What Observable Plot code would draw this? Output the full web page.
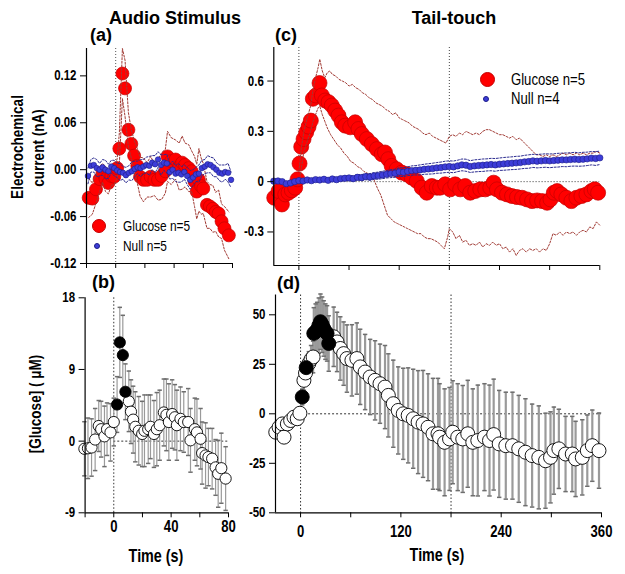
<!DOCTYPE html>
<html><head><meta charset="utf-8">
<script src="https://cdn.jsdelivr.net/npm/d3@7"></script>
<script src="https://cdn.jsdelivr.net/npm/@observablehq/plot@0.6"></script>
<style>
html,body{margin:0;padding:0;background:#fff;}
#wrap{position:relative;width:625px;height:574px;overflow:hidden;background:#fff;}
.lbl{position:absolute;white-space:nowrap;color:#000;}
.sw{position:absolute;border-radius:50%;box-sizing:border-box;}
</style></head>
<body><div id="wrap"></div>
<script>
// ---------------- DATA ----------------
// Panel (a): Audio stimulus, electrochemical current (nA)
const audioGluT  = [-18.5,-16,-13.5,-11,-9,-7,-5,-3,-1,1,2.5,4.6,6.4,8.7,10.7,12.6,14.8,16.7,19,21.5,24,26.5,29,31.5,34,35.5,38,41,43.5,45.5,47.5,50,52,54,55.5,57,58.5,60,62.5,64.5,66.5,68.5,70.5,72.5,74.5,77.5];
const audioGluNA = [-0.036,-0.037,-0.025,-0.012,-0.004,-0.012,-0.017,-0.008,-0.009,0.002,0.027,0.123,0.104,0.051,0.033,0.018,0.005,-0.009,-0.013,-0.013,-0.009,-0.013,-0.013,-0.008,-0.002,0.017,0.011,0.013,0.004,0.009,0.006,0.002,-0.002,-0.015,-0.028,-0.013,-0.021,-0.024,-0.045,-0.047,-0.050,-0.054,-0.056,-0.066,-0.075,-0.084];
const audioGluSEM = [0.025,0.02,0.018,0.016,0.012,0.016,0.014,0.012,0.01,0.012,0.02,0.032,0.036,0.022,0.018,0.02,0.022,0.025,0.028,0.022,0.026,0.02,0.026,0.03,0.028,0.032,0.03,0.025,0.03,0.034,0.028,0.03,0.026,0.032,0.035,0.04,0.036,0.032,0.03,0.028,0.03,0.025,0.03,0.022,0.028,0.03];
const audioNullT  = [-19,-17,-15,-13,-11,-9,-7,-5,-3,-1,1,3,5,7,9,11,13,15,17,19,21,23,25,27,29,31,33,35,37,39,41,43,45,47,49,51,53,55,57,59,61,63,65,67,69,71,73,75,77,79];
const audioNullNA = [-0.008,0.005,0.006,0.002,0.0,0.003,0.0,-0.002,0.004,0.002,-0.001,-0.003,-0.004,-0.007,-0.004,-0.002,0.001,0.003,0.002,0.004,0.006,0.005,0.009,0.007,0.013,0.006,0.009,0.008,-0.003,0.0,-0.005,-0.004,-0.006,-0.003,-0.008,-0.013,-0.010,-0.006,-0.005,0.002,0.004,0.007,0.006,0.003,0.0,-0.004,-0.005,-0.003,-0.004,-0.013];
const audioNullSEM = [0.01,0.008,0.009,0.011,0.008,0.01,0.012,0.009,0.008,0.01,0.009,0.011,0.008,0.01,0.009,0.012,0.01,0.008,0.011,0.009,0.01,0.012,0.009,0.011,0.01,0.013,0.01,0.012,0.009,0.011,0.01,0.012,0.01,0.009,0.011,0.012,0.01,0.009,0.011,0.01,0.009,0.011,0.01,0.012,0.009,0.01,0.011,0.009,0.012,0.01];

// Panel (b): Audio stimulus, [Glucose] (uM); sig = filled black point
const audioUMT   = [-20.5,-18,-15.5,-13,-10.5,-8.8,-6.5,-4.7,-2.3,0,2.3,4.2,6.3,8.1,10.5,12,13.5,15,17.4,19.8,21.4,24,25.6,28,30,32,34.9,36.7,38.4,40.7,42.6,44,46.5,48.8,51.9,53.5,56.5,58,60.5,61.6,64,66,68.6,71,72.8,75,78];
const audioUM    = [-0.96,-0.9,-0.8,0.2,1.9,1.5,0.6,1.5,1.1,2.4,4.6,12.4,10.8,6.2,5.0,3.7,2.7,1.8,1.3,0.9,1.3,1.5,1.8,0.9,1.5,2.0,3.6,3.3,2.4,3.4,3.0,2.0,2.8,2.4,2.4,0.1,1.5,1.1,0.3,-1.5,-1.8,-2.0,-2.2,-3.3,-4.1,-3.4,-4.7];
const audioUMSEM = [3.4,3.8,3.6,3.9,3.2,3.5,3.8,3.3,3.6,3.0,3.5,4.4,5.0,3.5,3.8,4.0,4.2,4.4,4.3,4.1,4.5,4.3,4.0,4.2,4.6,4.4,4.2,4.5,4.8,4.3,4.1,4.4,4.0,3.8,4.2,4.0,3.9,4.2,3.8,3.9,4.1,3.6,3.8,3.5,4.2,4.4,4.0];
const audioUMSig = [0,0,0,0,0,0,0,0,0,0,1,1,1,1,0,0,0,0,0,0,0,0,0,0,0,0,0,0,0,0,0,0,0,0,0,0,0,0,0,0,0,0,0,0,0,0,0];

// Panel (c): Tail-touch, electrochemical current (nA)
const tailGluT  = [-29.5,-24.3,-20.3,-16.3,-12.4,-8.4,-4.4,-1.6,0.8,2.8,5.6,8.8,11.6,14.3,16.7,20.3,24.7,27.5,31.5,35.5,39.4,43.4,47.4,51.4,55.4,61.4,67.3,71.3,75.3,81.3,87.3,93.3,99.2,103,107,111,117,123,129,135,141,147,153,159,165,169,175,181,187,193,199,205,211,217,223,229,233,237,243,249,255,261,267,273,279,285,291,297,301,305,309,314,320,326,332,338,344,350,354,358];
const tailGluNA = [-0.096,-0.056,-0.136,-0.076,-0.066,-0.052,-0.036,0.014,0.108,0.208,0.254,0.294,0.328,0.364,0.494,0.514,0.588,0.514,0.484,0.474,0.454,0.424,0.394,0.354,0.334,0.324,0.354,0.314,0.284,0.254,0.224,0.194,0.164,0.174,0.134,0.094,0.074,0.054,0.044,0.024,0.004,-0.036,-0.066,-0.026,-0.036,-0.036,-0.016,-0.046,-0.016,-0.046,-0.026,-0.066,-0.056,-0.046,-0.046,-0.036,-0.006,-0.046,-0.066,-0.076,-0.086,-0.092,-0.096,-0.106,-0.116,-0.112,-0.116,-0.126,-0.106,-0.066,-0.056,-0.076,-0.096,-0.116,-0.096,-0.086,-0.076,-0.056,-0.046,-0.066];
const tailGluUpper = [[0,0.06],[3,0.2],[6,0.3],[10,0.38],[14,0.45],[17,0.55],[20,0.62],[23,0.68],[25,0.73],[28,0.66],[31,0.62],[34,0.65],[37,0.66],[40,0.64],[44,0.63],[48,0.61],[52,0.6],[56,0.59],[60,0.57],[64,0.58],[68,0.56],[72,0.55],[76,0.53],[80,0.52],[84,0.5],[88,0.49],[92,0.47],[96,0.46],[100,0.45],[104,0.43],[108,0.42],[112,0.4],[116,0.41],[120,0.38],[124,0.37],[128,0.36],[132,0.35],[136,0.33],[140,0.32],[144,0.31],[148,0.29],[152,0.28],[156,0.29],[160,0.27],[164,0.26],[168,0.25],[172,0.24],[176,0.23],[180,0.27],[184,0.28],[188,0.27],[192,0.29],[196,0.28],[200,0.3],[204,0.29],[208,0.28],[212,0.29],[216,0.28],[220,0.3],[224,0.31],[228,0.31],[232,0.3],[236,0.29],[240,0.28],[244,0.28],[248,0.27],[252,0.26],[256,0.27],[260,0.25],[264,0.26],[268,0.24],[272,0.22],[276,0.2],[280,0.18],[284,0.16],[288,0.16],[292,0.15],[296,0.16],[300,0.15],[304,0.16],[308,0.15],[312,0.16],[316,0.17],[320,0.16],[324,0.17],[328,0.16],[332,0.17],[336,0.16],[340,0.17],[344,0.16],[348,0.17],[352,0.17],[356,0.18],[360,0.17]];
const tailGluLower = [[0,-0.02],[3,0.08],[6,0.18],[10,0.24],[14,0.3],[17,0.36],[20,0.4],[23,0.44],[25,0.45],[28,0.4],[31,0.36],[34,0.32],[38,0.28],[42,0.25],[46,0.22],[50,0.2],[54,0.17],[58,0.15],[62,0.12],[66,0.11],[70,0.09],[74,0.08],[78,0.06],[82,0.05],[86,0.04],[90,0.01],[94,-0.04],[98,-0.08],[102,-0.14],[106,-0.2],[110,-0.22],[114,-0.24],[118,-0.25],[122,-0.26],[126,-0.27],[130,-0.28],[134,-0.29],[138,-0.3],[142,-0.31],[146,-0.31],[150,-0.33],[154,-0.34],[158,-0.34],[162,-0.35],[166,-0.36],[170,-0.38],[174,-0.4],[178,-0.33],[180,-0.28],[184,-0.3],[188,-0.34],[192,-0.32],[196,-0.36],[200,-0.35],[204,-0.38],[208,-0.37],[212,-0.38],[216,-0.36],[220,-0.39],[224,-0.37],[228,-0.38],[232,-0.36],[236,-0.38],[240,-0.37],[244,-0.4],[248,-0.39],[252,-0.42],[256,-0.4],[260,-0.44],[264,-0.41],[268,-0.4],[272,-0.42],[276,-0.4],[280,-0.41],[284,-0.4],[288,-0.42],[292,-0.4],[296,-0.41],[300,-0.37],[304,-0.31],[308,-0.32],[312,-0.3],[316,-0.32],[320,-0.3],[324,-0.31],[328,-0.3],[332,-0.32],[336,-0.3],[340,-0.29],[344,-0.3],[348,-0.27],[352,-0.28],[356,-0.24],[360,-0.26]];
// [t, mean, SEM]
const tailNull = [[-30,0.003,0.008],[-25,0.004,0.008],[-20,0.0,0.009],[-15,-0.012,0.01],[-10,-0.008,0.009],[-5,0.0,0.008],[0,0.006,0.008],[5,0.004,0.009],[10,0.01,0.01],[15,0.006,0.01],[20,0.012,0.011],[25,0.01,0.01],[30,0.014,0.012],[35,0.008,0.011],[40,0.016,0.012],[45,0.012,0.013],[50,0.018,0.012],[55,0.02,0.014],[60,0.022,0.015],[65,0.018,0.016],[70,0.026,0.016],[75,0.024,0.018],[80,0.03,0.018],[85,0.028,0.02],[90,0.034,0.02],[95,0.036,0.021],[100,0.04,0.022],[105,0.044,0.022],[110,0.048,0.024],[115,0.05,0.024],[120,0.058,0.025],[125,0.056,0.026],[130,0.062,0.026],[135,0.066,0.028],[140,0.068,0.028],[145,0.07,0.03],[150,0.074,0.03],[155,0.076,0.031],[160,0.078,0.032],[165,0.082,0.032],[170,0.084,0.033],[175,0.088,0.034],[180,0.09,0.034],[185,0.088,0.035],[190,0.094,0.034],[195,0.1,0.035],[200,0.098,0.036],[205,0.09,0.035],[210,0.094,0.036],[215,0.096,0.036],[220,0.098,0.037],[225,0.1,0.036],[230,0.102,0.037],[235,0.1,0.038],[240,0.104,0.037],[245,0.106,0.038],[250,0.108,0.038],[255,0.11,0.038],[260,0.112,0.039],[265,0.114,0.038],[270,0.118,0.039],[275,0.12,0.04],[280,0.124,0.039],[285,0.122,0.04],[290,0.124,0.04],[295,0.126,0.04],[300,0.124,0.041],[305,0.126,0.04],[310,0.128,0.041],[315,0.13,0.04],[320,0.13,0.041],[325,0.132,0.04],[330,0.134,0.041],[335,0.132,0.04],[340,0.134,0.041],[345,0.136,0.04],[350,0.14,0.04],[355,0.138,0.041],[360,0.142,0.04]];

// Panel (d): Tail-touch, [Glucose] (uM): [t, mean, SEM, sig]
const tailUM = [[-29.7,-9.3,3,0],[-25.7,-6.8,3,0],[-21.8,-5.1,3,0],[-19.8,-11.8,3,0],[-15.8,-5.1,3,0],[-11.9,-3.4,3,0],[-7.9,-1.7,3,0],[-4,-2.5,3,0],[-0.8,0.3,3,0],[2,8.5,4,1],[4,16.9,5,0],[5.9,20.6,5,0],[6.7,23.3,5,1],[9.9,25.4,6,0],[12.5,27.5,7,0],[15,28.7,8,0],[15.8,40.6,13,1],[18,41.5,14,1],[19.8,42.3,14,1],[21.8,44.5,14,1],[23.8,46.5,14,1],[25.8,45,14,1],[27.7,43.1,14,1],[29.7,41.5,14,1],[31.7,40.6,14,1],[33.7,35.5,14,1],[39.6,38.9,15,0],[43.6,36.3,15,0],[47.5,33,16,0],[51.5,30.4,16,0],[55.4,27.9,17,0],[61.4,27,18,0],[67.3,27.9,18,0],[71.3,23.7,19,0],[77.2,21.1,19,0],[83.2,18.6,19,0],[89.1,16.9,20,0],[95,15.2,20,0],[101,13.5,21,0],[105,9.3,21,0],[110.9,5.1,22,0],[116.8,1.7,22,0],[122.8,0,23,0],[128.7,-0.8,24,0],[134.7,-2.5,25,0],[140.6,-4.2,26,0],[146.5,-5.1,27,0],[152.5,-6.8,27,0],[158.4,-10.1,28,0],[164.4,-10.1,28,0],[166.3,-11.8,27,0],[172.3,-14.4,27,0],[178.2,-12.7,26,0],[182,-9.3,26,0],[188,-11.8,27,0],[194,-12.7,27,0],[200,-10.1,27,0],[206,-14.4,27,0],[212,-13.5,28,0],[220,-11.8,27,0],[226,-13.5,28,0],[231,-10.5,28,0],[237.6,-15.2,27,0],[245.5,-16.1,27,0],[253.5,-16.1,27,0],[261,-17.7,27,0],[269,-19.4,27,0],[277,-21.1,26,0],[285,-22,26,0],[293,-23.7,24,0],[299,-22,23,0],[303,-18.6,22,0],[309,-17.7,20,0],[317,-20.3,19,0],[325,-20.3,19,0],[329,-22.8,19,0],[337,-22,19,0],[343,-18.6,18,0],[349,-16.1,18,0],[357,-18.6,19,0]];

// Axes / reference values
const audioXDomain = [-20, 80];
const audioXTicks = [-20, 0, 20, 40, 60, 80];
const audioXLabels = [0, 40, 80];
const audioNAYDomain = [-0.12, 0.155];
const audioNAYTicks = [-0.12, -0.06, 0, 0.06, 0.12];
const audioUMYDomain = [-9, 18];
const audioUMYTicks = [-9, 0, 9, 18];
const tailXDomain = [-30, 360];
const tailXTicks = [0, 60, 120, 180, 240, 300, 360];
const tailXLabels = [0, 120, 240, 360];
const tailNAYDomain = [-0.5, 0.8];
const tailNAYTicks = [-0.3, 0, 0.3, 0.6];
const tailUMYDomain = [-50, 60];
const tailUMYTicks = [-50, -25, 0, 25, 50];
const audioVLines = [0];
const tailVLines = [0, 180];
const audioZeroSpan = [0, 80];
const tailZeroSpan = [0, 360];

// ---------------- DRAW ----------------
const W = 625, H = 574;
const SANS = "'Liberation Sans',Arial,sans-serif";
const NARROW_SCALE = 0.82;
const wrap = document.getElementById("wrap");

const RED = "#ff0000", RED_EDGE = "#c40000", RED_DASH = "#a13a34";
const BLUE = "#3d3dd8", BLUE_EDGE = "#1c1c88", BLUE_DASH = "#2b2b8f";
const GREY = "#9a9a9a", CAP = "#6e6e6e";
const capSymbol = {draw(ctx) { ctx.moveTo(-2.2, 0); ctx.lineTo(2.2, 0); }};

function panel({frame: [l, r, t, b], xDomain, yDomain, xTicks, xLabels, yTicks, yFormat, xPad = 4, marks}) {
  const svg = Plot.plot({
    width: W, height: H,
    marginLeft: l, marginRight: W - r, marginTop: t, marginBottom: H - b,
    x: {domain: xDomain},
    y: {domain: yDomain},
    style: {position: "absolute", left: "0px", top: "0px", background: "transparent", overflow: "visible",
            fontFamily: SANS, fontSize: "14px", fontWeight: "bold", color: "#000", maxWidth: "none"},
    marks: [
      ...marks,
      Plot.ruleX([xDomain[0]], {stroke: "#000", strokeWidth: 1.2}),
      Plot.ruleY([yDomain[0]], {stroke: "#000", strokeWidth: 1.2}),
      Plot.axisX({ticks: xTicks, tickSize: 5, tickPadding: xPad, label: null,
                  tickFormat: d => xLabels.includes(d) ? String(d) : "", fontSize: 16}),
      Plot.axisY({ticks: yTicks, tickSize: 6, tickPadding: 4, label: null, tickFormat: yFormat})
    ]
  });
  // narrow (condensed) look for the tick labels
  svg.querySelectorAll("text").forEach(el => {
    const tr = el.getAttribute("transform") || "";
    el.setAttribute("transform", tr + ` scale(${NARROW_SCALE},1)`);
  });
  wrap.appendChild(svg);
}

const audioGlu = audioGluT.map((t, i) => ({t, v: audioGluNA[i], e: audioGluSEM[i]}));
const audioNull = audioNullT.map((t, i) => ({t, v: audioNullNA[i], e: audioNullSEM[i]}));
const audioGluUM = audioUMT.map((t, i) => ({t, v: audioUM[i], e: audioUMSEM[i], s: audioUMSig[i]}));
const tailGlu = tailGluT.map((t, i) => ({t, v: tailGluNA[i]}));
const tailNullD = tailNull.map(([t, v, e]) => ({t, v, e}));
const tailGluUMD = tailUM.map(([t, v, e, s]) => ({t, v, e, s}));
const dash = (stroke) => ({stroke, strokeWidth: 1, strokeDasharray: "2,1.6"});

// (a)
panel({
  frame: [86, 232, 48, 263], xDomain: audioXDomain, yDomain: audioNAYDomain,
  xTicks: audioXTicks, xLabels: [], yTicks: audioNAYTicks, yFormat: d => d.toFixed(2),
  marks: [
    Plot.ruleX(audioVLines, {stroke: "#555", strokeDasharray: "1,2"}),
    Plot.dot(audioGlu, {x: "t", y: "v", r: 6.5, fill: RED, stroke: RED_EDGE, strokeWidth: 0.7}),
    Plot.line(audioGlu, {x: "t", y: d => d.v + d.e, ...dash(RED_DASH)}),
    Plot.line(audioGlu, {x: "t", y: d => d.v - d.e, ...dash(RED_DASH)}),
    Plot.line(audioNull, {x: "t", y: d => d.v + d.e, ...dash(BLUE_DASH)}),
    Plot.line(audioNull, {x: "t", y: d => d.v - d.e, ...dash(BLUE_DASH)}),
    Plot.dot(audioNull, {x: "t", y: "v", r: 2.8, fill: BLUE, stroke: BLUE_EDGE, strokeWidth: 0.6})
  ]
});

// (b)
panel({
  frame: [84.6, 228, 297.3, 512.3], xDomain: audioXDomain, yDomain: audioUMYDomain,
  xTicks: audioXTicks, xLabels: audioXLabels, yTicks: audioUMYTicks, yFormat: d => String(d), xPad: 3,
  marks: [
    Plot.ruleX(audioVLines, {stroke: "#333", strokeDasharray: "1.5,2"}),
    Plot.ruleY([0], {x1: audioZeroSpan[0], x2: audioZeroSpan[1], stroke: "#333", strokeDasharray: "2,2"}),
    Plot.ruleX(audioGluUM, {x: "t", y1: d => d.v - d.e, y2: d => d.v + d.e, stroke: GREY, strokeWidth: 1.2}),
    Plot.dot(audioGluUM, {x: "t", y: d => d.v + d.e, symbol: capSymbol, r: 3, fill: "none", stroke: CAP}),
    Plot.dot(audioGluUM, {x: "t", y: d => d.v - d.e, symbol: capSymbol, r: 3, fill: "none", stroke: CAP}),
    Plot.dot(audioGluUM.filter(d => !d.s), {x: "t", y: "v", r: 5.6, fill: "#fff", stroke: "#000", strokeWidth: 0.9}),
    Plot.dot(audioGluUM.filter(d => d.s), {x: "t", y: "v", r: 5.6, fill: "#000", stroke: "#000", strokeWidth: 0.9})
  ]
});

// (c)
panel({
  frame: [273.3, 599.3, 47, 265], xDomain: tailXDomain, yDomain: tailNAYDomain,
  xTicks: tailXTicks, xLabels: [], yTicks: tailNAYTicks, yFormat: d => String(d),
  marks: [
    Plot.ruleX(tailVLines, {stroke: "#444", strokeDasharray: "1,2"}),
    Plot.ruleY([0], {x1: tailZeroSpan[0], x2: tailZeroSpan[1], stroke: "#777", strokeDasharray: "1.5,1.5"}),
    Plot.dot(tailGlu, {x: "t", y: "v", r: 7.5, fill: RED, stroke: RED_EDGE, strokeWidth: 0.7}),
    Plot.line(tailGluUpper, {x: d => d[0], y: d => d[1], ...dash(RED_DASH)}),
    Plot.line(tailGluLower, {x: d => d[0], y: d => d[1], ...dash(RED_DASH)}),
    Plot.line(tailNullD, {x: "t", y: d => d.v + d.e, ...dash(BLUE_DASH)}),
    Plot.line(tailNullD, {x: "t", y: d => d.v - d.e, ...dash(BLUE_DASH)}),
    Plot.dot(tailNullD, {x: "t", y: "v", r: 3.2, fill: BLUE, stroke: BLUE_EDGE, strokeWidth: 0.6})
  ]
});

// (d)
panel({
  frame: [275, 601, 294.5, 512.3], xDomain: tailXDomain, yDomain: tailUMYDomain,
  xTicks: tailXTicks, xLabels: tailXLabels, yTicks: tailUMYTicks, yFormat: d => String(d), xPad: 8,
  marks: [
    Plot.ruleX(tailVLines, {stroke: "#333", strokeDasharray: "1.5,2"}),
    Plot.ruleY([0], {x1: tailZeroSpan[0], x2: tailZeroSpan[1], stroke: "#333", strokeDasharray: "2,2"}),
    Plot.ruleX(tailGluUMD, {x: "t", y1: d => d.v - d.e, y2: d => d.v + d.e, stroke: GREY, strokeWidth: 2.2}),
    Plot.dot(tailGluUMD, {x: "t", y: d => d.v + d.e, symbol: capSymbol, r: 3, fill: "none", stroke: CAP}),
    Plot.dot(tailGluUMD, {x: "t", y: d => d.v - d.e, symbol: capSymbol, r: 3, fill: "none", stroke: CAP}),
    Plot.dot(tailGluUMD.filter(d => !d.s), {x: "t", y: "v", r: 7, fill: "#fff", stroke: "#000", strokeWidth: 0.9}),
    Plot.dot(tailGluUMD.filter(d => d.s), {x: "t", y: "v", r: 7, fill: "#000", stroke: "#000", strokeWidth: 0.9})
  ]
});

// ---------------- TEXT ----------------
function text(str, x, baseline, {size = 16, weight = "bold", narrow = true, anchor = "start", rotate = false} = {}) {
  const el = document.createElement("div");
  el.className = "lbl";
  el.textContent = str;
  el.style.fontFamily = SANS;
  el.style.fontSize = size + "px";
  el.style.fontWeight = weight;
  el.style.lineHeight = size + "px";
  const sx = narrow ? ` scaleX(${NARROW_SCALE})` : "";
  if (rotate) {
    el.style.left = x + "px";
    el.style.top = baseline + "px";
    el.style.transform = "translate(-50%,-50%) rotate(-90deg)" + sx;
  } else {
    el.style.top = (baseline - 0.85 * size) + "px";
    el.style.left = x + "px";
    if (anchor === "middle") { el.style.transform = "translateX(-50%)" + sx; }
    else { el.style.transformOrigin = "0 0"; el.style.transform = sx || "none"; }
  }
  wrap.appendChild(el);
}
function swatch(cx, cy, r, fill, stroke) {
  const el = document.createElement("div");
  el.className = "sw";
  el.style.left = (cx - r) + "px"; el.style.top = (cy - r) + "px";
  el.style.width = (2 * r) + "px"; el.style.height = (2 * r) + "px";
  el.style.background = fill; el.style.border = `0.7px solid ${stroke}`;
  wrap.appendChild(el);
}

text("Audio Stimulus", 175, 24, {size: 18, narrow: false, anchor: "middle"});
text("Tail-touch", 454, 24, {size: 18, narrow: false, anchor: "middle"});
text("(a)", 90, 41, {size: 18, narrow: false});
text("(c)", 275, 41, {size: 18, narrow: false});
text("(b)", 92, 288, {size: 18, narrow: false});
text("(d)", 277, 289, {size: 18, narrow: false});
text("Electrochemical", 17, 147, {size: 16.5, rotate: true});
text("current (nA)", 38, 148, {size: 16.5, rotate: true});
text("[Glucose] ( \u03bcM)", 35, 404, {size: 16.5, rotate: true});
text("Time (s)", 156, 563, {size: 17.5, anchor: "middle"});
text("Time (s)", 437, 562, {size: 17.5, anchor: "middle"});

// legends
swatch(99, 225.7, 7, RED, RED_EDGE);
text("Glucose n=5", 122.7, 231, {size: 14.5, weight: "normal"});
swatch(97.3, 245.7, 3, BLUE, BLUE_EDGE);
text("Null n=5", 122.7, 251, {size: 14.5, weight: "normal"});
swatch(487.7, 79, 7.5, RED, RED_EDGE);
text("Glucose n=5", 510.7, 85.5, {size: 16, weight: "normal"});
swatch(485.7, 99, 3, BLUE, BLUE_EDGE);
text("Null n=4", 510.7, 105, {size: 16, weight: "normal"});
</script>
</body></html>
